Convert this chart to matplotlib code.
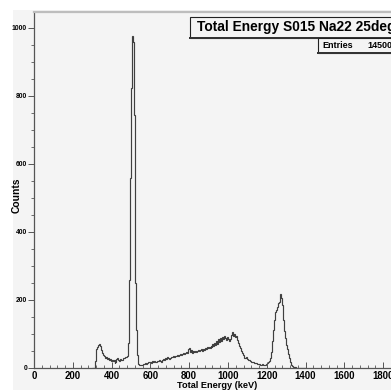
import numpy as np
import matplotlib
matplotlib.use("Agg")
import matplotlib.pyplot as plt
from matplotlib.patches import Rectangle
from matplotlib.ticker import MultipleLocator

# ---- data ----
bin_start_kev = 300
bin_width_kev = 5
counts = [
    0, 0, 0, 20, 55, 62, 68, 70, 64, 52,          # 300-345
    44, 38, 34, 30, 31, 27, 29, 24, 26, 22,       # 350-395
    25, 21, 23, 16, 18, 26, 28, 24, 22, 27,       # 400-445
    25, 23, 29, 30, 31, 32, 36, 75, 260, 560,     # 450-495
    823, 977, 960, 745, 250, 112, 38, 12, 9, 8,   # 500-545
    10, 9, 12, 11, 14, 12, 16, 15, 18, 17,        # 550-595
    19, 16, 20, 18, 21, 19, 17, 22, 20, 23,       # 600-645
    21, 19, 24, 27, 25, 29, 27, 31, 28, 26,       # 650-695
    30, 33, 31, 35, 32, 36, 34, 38, 35, 39,       # 700-745
    37, 41, 38, 42, 45, 40, 44, 47, 43, 55,       # 750-795
    60, 48, 52, 45, 49, 47, 51, 46, 50, 53,       # 800-845
    49, 52, 55, 51, 57, 54, 59, 56, 61, 58,       # 850-895
    63, 60, 66, 62, 70, 65, 74, 68, 79, 72,       # 900-945
    86, 76, 88, 80, 92, 84, 95, 88, 83, 90,       # 950-995
    86, 78, 85, 98, 105, 94, 100, 91, 95, 82,     # 1000-1045
    75, 66, 58, 50, 44, 37, 33, 30, 28, 31,       # 1050-1095
    26, 24, 25, 21, 19, 17, 18, 15, 14, 16,       # 1100-1145
    12, 11, 13, 10, 9, 11, 9, 10, 9, 12,          # 1150-1195
    15, 18, 22, 28, 48, 80, 112, 140, 166, 172,   # 1200-1245
    180, 178, 190, 195, 218, 205, 185, 141, 110, 88,  # 1250-1295
    68, 55, 40, 29, 18, 10, 7, 4, 3, 2,           # 1300-1345
    1, 0, 0, 0, 0, 0, 0, 0, 0, 0,                 # 1350-1395
]
x_ticks = [0, 200, 400, 600, 800, 1000, 1200, 1400, 1600, 1800]
y_ticks = [0, 200, 400, 600, 800, 1000]
title = "Total Energy S015 Na22 25deg"
entries = "14500"

# ---- figure ----
W, H = 391, 390
fig = plt.figure(figsize=(W / 100, H / 100), dpi=100, facecolor="white")
FAM = ["Liberation Sans", "DejaVu Sans"]
pad_c = "#f4f4f4"

fig.patches.append(Rectangle((13 / W, 0), 1, (H - 10) / H, transform=fig.transFigure,
                             facecolor=pad_c, edgecolor="none", zorder=-5))

x0, y0, ytop = 34, 368, 12
xmax = 2000
px_per_kev = 0.194
ax = fig.add_axes([x0 / W, (H - y0) / H, xmax * px_per_kev / W, (y0 - ytop) / H])
ax.set_facecolor(pad_c)
ax.set_xlim(0, xmax)
ax.set_ylim(0, (y0 - ytop) / 0.34)

edges = bin_start_kev + bin_width_kev * np.arange(len(counts) + 1)
ax.stairs(counts, edges, color="#3f3f3f", lw=0.85)

ax.spines["right"].set_visible(False)
ax.spines["top"].set_color("#bdbdbd")
ax.spines["top"].set_linewidth(1.6)
for s in ["left", "bottom"]:
    ax.spines[s].set_color("#555555")
    ax.spines[s].set_linewidth(0.9)

ax.set_xticks(x_ticks)
ax.set_yticks(y_ticks)
ax.xaxis.set_minor_locator(MultipleLocator(40))
ax.yaxis.set_minor_locator(MultipleLocator(50))
ax.tick_params(axis="y", which="major", direction="out", length=4, width=0.7, color="#555555",
               labelsize=4.9, pad=1)
ax.tick_params(axis="y", which="minor", direction="out", length=2.2, width=0.6, color="#555555")
ax.tick_params(axis="x", which="major", direction="in", length=4, width=0.7, color="#555555",
               labelsize=6.9, pad=2)
ax.tick_params(axis="x", which="minor", direction="in", length=2, width=0.6, color="#555555")
ax.tick_params(top=False, right=False)
for lab in ax.get_xticklabels() + ax.get_yticklabels():
    lab.set_family(FAM)
    lab.set_fontweight("bold")

fig.text(16.7 / W, 1 - 195 / H, "Counts", rotation=90, ha="center", va="center",
         family=FAM, fontweight="bold", fontsize=7.4)
fig.text(217 / W, 1 - 380.5 / H, "Total Energy (keV)", ha="center", va="top",
         family=FAM, fontweight="bold", fontsize=6.6)

# title box
tb_x, tb_y1, tb_y2 = 190, 17, 38
fig.patches.append(Rectangle((tb_x / W, 1 - tb_y2 / H), 1, (tb_y2 - tb_y1) / H,
                             transform=fig.transFigure, facecolor=pad_c,
                             edgecolor="#222222", lw=0.8, zorder=3))
fig.patches.append(Rectangle(((tb_x - 1) / W, 1 - (tb_y2 + 1) / H), 1, 1.8 / H,
                             transform=fig.transFigure, facecolor="#333333",
                             edgecolor="none", zorder=3))
fig.text(197 / W, 1 - 27.5 / H, title, ha="left", va="center", family=FAM,
         fontweight="bold", fontsize=9.9, zorder=4)

# entries box
eb_x, eb_y1, eb_y2 = 318, 38, 53
fig.patches.append(Rectangle((eb_x / W, 1 - eb_y2 / H), 1, (eb_y2 - eb_y1) / H,
                             transform=fig.transFigure, facecolor=pad_c,
                             edgecolor="#222222", lw=0.8, zorder=3))
fig.patches.append(Rectangle(((eb_x - 1) / W, 1 - (eb_y2 + 1) / H), 1, 1.6 / H,
                             transform=fig.transFigure, facecolor="#333333",
                             edgecolor="none", zorder=3))
fig.text(322 / W, 1 - 45.5 / H, "Entries", ha="left", va="center", family=FAM,
         fontweight="bold", fontsize=6.5, zorder=4)
fig.text(367 / W, 1 - 45.5 / H, entries, ha="left", va="center", family=FAM,
         fontweight="bold", fontsize=6.5, zorder=4)

fig.savefig("out.png", dpi=100, facecolor="white")
